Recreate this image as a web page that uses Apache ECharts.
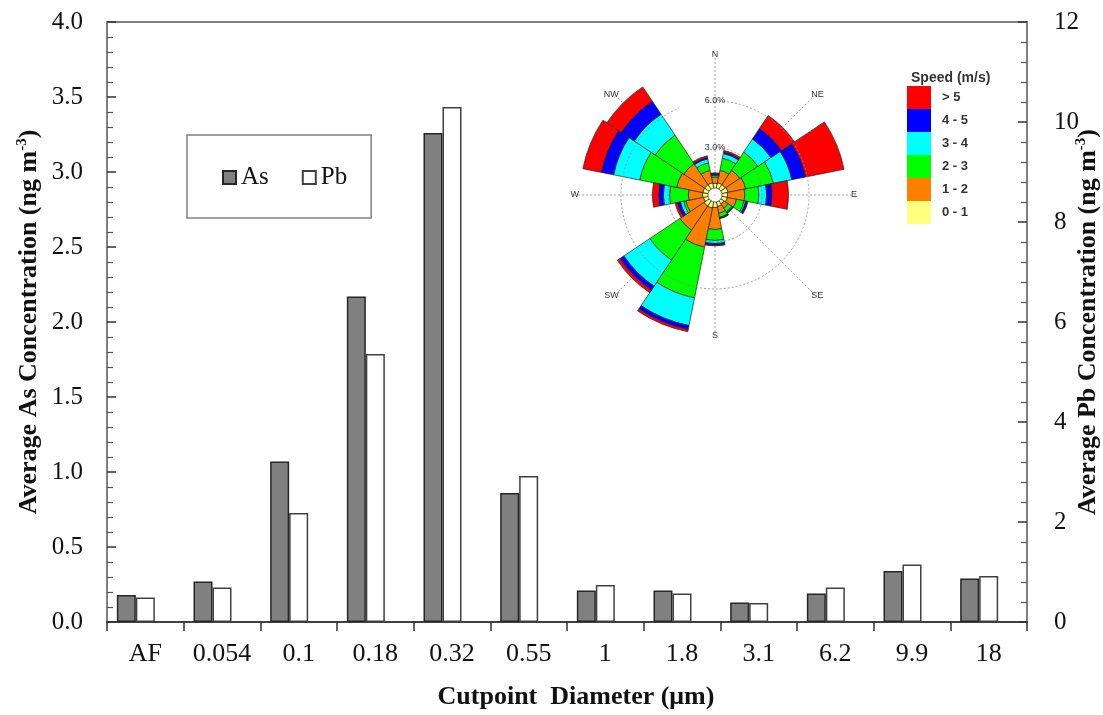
<!DOCTYPE html>
<html>
<head>
<meta charset="utf-8">
<script src="https://cdn.jsdelivr.net/npm/echarts@6/dist/echarts.min.js"></script>
<style>
html,body{margin:0;padding:0;background:#fff;}
#chart{width:1103px;height:715px;}
</style>
</head>
<body>
<div id="chart"></div>
<script>
// ---- Main bar chart data ----
const categories = ['AF','0.054','0.1','0.18','0.32','0.55','1','1.8','3.1','6.2','9.9','18'];
const asValues = [0.18, 0.27, 1.07, 2.17, 3.26, 0.86, 0.21, 0.21, 0.13, 0.19, 0.34, 0.29];
const pbValues = [0.49, 0.69, 2.18, 5.36, 10.3, 2.92, 0.74, 0.57, 0.38, 0.69, 1.15, 0.92];
const leftTicks = [0, 4, 0.5];   // min, max, interval (ng m-3, As)
const rightTicks = [0, 12, 2];   // min, max, interval (ng m-3, Pb)

// ---- Wind rose data (frequency %, per speed class) ----
const windDirs = ['N','NNE','NE','ENE','E','ESE','SE','SSE','S','SSW','SW','WSW','W','WNW','NW','NNW'];
const calmRadius = 0.45;
const speed0to1 = [0.30,0.35,0.35,0.40,0.35,0.35,0.25,0.30,0.35,0.40,0.40,0.30,0.35,0.35,0.35,0.35];
const speed1to2 = [0.40,0.80,1.10,1.15,1.10,0.60,0.30,0.45,1.40,2.55,1.85,1.15,0.90,1.70,1.60,0.80];
const speed2to3 = [0.10,0.80,1.40,1.80,0.90,0.50,0.30,0.25,0.70,3.30,2.30,0.15,1.20,2.40,2.20,0.50];
const speed3to4 = [0.05,0.30,1.00,1.20,0.50,0.10,0.05,0.05,0.20,1.80,2.00,0.20,0.40,1.70,1.60,0.25];
const speed4to5 = [0.08,0.10,0.80,0.90,0.35,0.10,0.03,0.02,0.10,0.25,0.30,0.20,0.30,0.80,1.00,0.10];
const speedAbove5 = [0.04,0.10,1.00,2.50,1.05,0.05,0.02,0.02,0.05,0.15,0.20,0.15,0.40,1.20,1.10,0.10];
const roseTicks = [0, 9, 3];
const speedNames = ['> 5','4 - 5','3 - 4','2 - 3','1 - 2','0 - 1'];

const serif = 'Liberation Serif';
const sans = 'Liberation Sans';

const chart = echarts.init(document.getElementById('chart'), null, {renderer:'canvas'});

const roseBins = [
  {name:'0 - 1', data:speed0to1, color:'#ffff80'},
  {name:'1 - 2', data:speed1to2, color:'#ff8000'},
  {name:'2 - 3', data:speed2to3, color:'#00ff00'},
  {name:'3 - 4', data:speed3to4, color:'#00ffff'},
  {name:'4 - 5', data:speed4to5, color:'#0000ff'},
  {name:'> 5', data:speedAbove5, color:'#ff0000'}
];

const roseSeries = [{
  name:'calm', type:'bar', coordinateSystem:'polar', stack:'rose',
  data: windDirs.map(() => calmRadius), barCategoryGap:'0%', silent:true,
  itemStyle:{color:'#ffffff', borderWidth:0}
}].concat(roseBins.map(b => ({
  name:b.name, type:'bar', coordinateSystem:'polar', stack:'rose',
  data:b.data, barCategoryGap:'0%',
  itemStyle:{color:b.color, borderColor:'#222', borderWidth:0.7}
})));

const nameRich = {
  t:{fontFamily:serif, fontWeight:'bold', fontSize:26, color:'#111', lineHeight:28},
  s:{fontFamily:serif, fontWeight:'bold', fontSize:15, color:'#111', verticalAlign:'top', lineHeight:17}
};

const option = {
  animation:false,
  backgroundColor:'#ffffff',
  title:{
    text:'Speed (m/s)', left:906, top:66,
    textStyle:{fontFamily:sans, fontWeight:'bold', fontSize:14, color:'#333'}
  },
  legend:[{
    data:['As','Pb'], left:187, top:135,
    padding:[30,24,28,35], borderColor:'#808080', borderWidth:1.5,
    itemWidth:13, itemHeight:13, itemGap:33, icon:'rect',
    textStyle:{fontFamily:serif, fontSize:25, color:'#111'}
  },{
    data:speedNames, orient:'vertical', left:907, top:86, padding:0,
    itemWidth:24, itemHeight:23, itemGap:0, icon:'rect',
    itemStyle:{borderWidth:0},
    textStyle:{fontFamily:sans, fontWeight:'bold', fontSize:13, color:'#333', padding:[0,0,0,6]}
  }],
  grid:{left:107, right:76, top:22, bottom:93, show:true, borderColor:'#808080', borderWidth:2,
        containLabel:false, outerBoundsMode:'none'},
  xAxis:{
    type:'category', data:categories,
    axisLine:{lineStyle:{color:'#404040', width:2}},
    axisTick:{show:true, inside:false, length:9, lineStyle:{color:'#333', width:1.5}},
    axisLabel:{fontFamily:serif, fontSize:26, color:'#111', margin:19},
    name:'Cutpoint  Diameter (μm)', nameLocation:'middle', nameGap:62, nameMoveOverlap:false,
    nameTextStyle:{fontFamily:serif, fontWeight:'bold', fontSize:26, color:'#111', padding:[0,0,0,18]}
  },
  yAxis:[{
    type:'value', position:'left', min:leftTicks[0], max:leftTicks[1], interval:leftTicks[2],
    axisLine:{show:true, lineStyle:{color:'#808080', width:2}},
    axisTick:{show:true, inside:true, length:9, lineStyle:{color:'#333', width:1.5}},
    minorTick:{show:true, splitNumber:5, length:6, lineStyle:{color:'#555', width:1.2}},
    splitLine:{show:false},
    axisLabel:{formatter:v => v.toFixed(1), fontFamily:serif, fontSize:25, color:'#111', margin:24},
    name:'{t|Average As Concentration (ng m}{s|-3}{t|)}', nameLocation:'middle', nameGap:64, nameRotate:90,
    nameMoveOverlap:false,
    nameTextStyle:{rich:nameRich}
  },{
    type:'value', position:'right', min:rightTicks[0], max:rightTicks[1], interval:rightTicks[2],
    axisLine:{show:true, lineStyle:{color:'#808080', width:2}},
    axisTick:{show:true, inside:true, length:9, lineStyle:{color:'#333', width:1.5}},
    minorTick:{show:true, splitNumber:5, length:6, lineStyle:{color:'#555', width:1.2}},
    splitLine:{show:false},
    axisLabel:{fontFamily:serif, fontSize:25, color:'#111', margin:27},
    name:'{t|Average Pb Concentration (ng m}{s|-3}{t|)}', nameLocation:'middle', nameGap:47, nameRotate:90,
    nameMoveOverlap:false,
    nameTextStyle:{rich:nameRich}
  }],
  polar:{center:[715,195], radius:141},
  angleAxis:{
    type:'category', data:windDirs, startAngle:90, clockwise:true, boundaryGap:false,
    axisLine:{show:false}, axisTick:{show:false},
    axisLabel:{interval:1, fontFamily:sans, fontSize:9, color:'#333', margin:-5},
    splitLine:{show:true, interval:1, lineStyle:{color:'#888', type:[2,2], width:0.8}}
  },
  radiusAxis:{
    type:'value', min:roseTicks[0], max:roseTicks[1], interval:roseTicks[2],
    axisLine:{show:false}, axisTick:{show:false},
    axisLabel:{formatter:v => (v > 0 && v < 9) ? v.toFixed(1) + '%' : '', fontFamily:sans, fontSize:9, color:'#333', margin:0, align:'center', verticalAlign:'middle'},
    splitLine:{show:true, lineStyle:{color:['rgba(0,0,0,0)','#888','#888','rgba(0,0,0,0)'], type:[2,2], width:0.8}},
    z:10
  },
  series:[
    {name:'As', type:'bar', data:asValues, yAxisIndex:0, barWidth:19, barGap:'0%',
     itemStyle:{color:'#808080', borderColor:'#262626', borderWidth:1.5}},
    {name:'Pb', type:'bar', data:pbValues, yAxisIndex:1, barWidth:19, barGap:'0%',
     itemStyle:{color:'#ffffff', borderColor:'#404040', borderWidth:1.5}},
    {name:'spacer', type:'bar', data:categories.map(() => null), yAxisIndex:0, barWidth:19, barGap:'0%', silent:true}
  ].concat(roseSeries)
};
chart.setOption(option);
</script>
</body>
</html>
